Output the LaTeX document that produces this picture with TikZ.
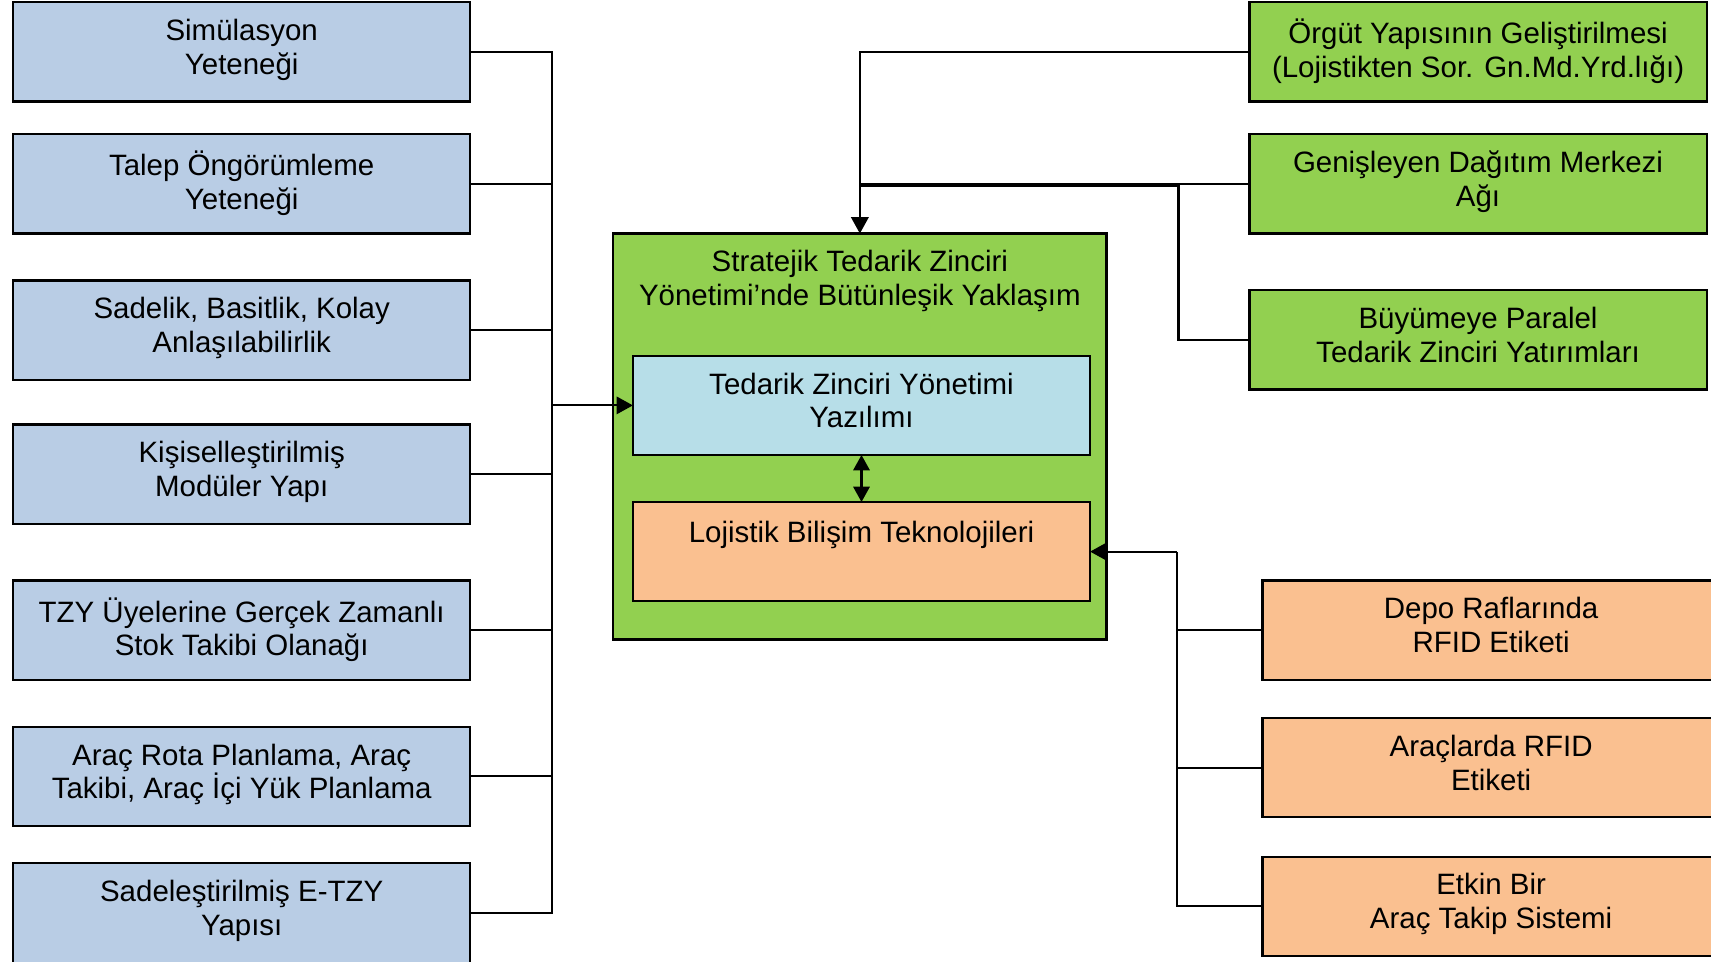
\documentclass[tikz,border=0pt]{standalone}
\usepackage{fontspec}
\setmainfont{Liberation Sans}
\usetikzlibrary{arrows.meta}

\definecolor{cardblue}{HTML}{B9CDE5}
\definecolor{cardgreen}{HTML}{92D050}
\definecolor{cardaqua}{HTML}{B7DEE8}
\definecolor{cardorange}{HTML}{FAC090}

\tikzset{
  card/.style={draw=black, line width=2pt, minimum width=419pt, minimum height=91pt,
               inner sep=0pt, outer sep=0pt},
  bluecard/.style={card, fill=cardblue},
  greencard/.style={card, fill=cardgreen},
  orangecard/.style={card, fill=cardorange},
  aquacard/.style={card, fill=cardaqua},
  frame/.style={draw=black, line width=2pt, fill=cardgreen, minimum width=452pt,
                minimum height=372pt, inner sep=0pt, outer sep=0pt},
  txt/.style={anchor=north, align=center, inner sep=0pt,
              font=\fontsize{27}{31}\selectfont, execute at begin node=\strut},
  wire/.style={line width=1.9pt},
  arr/.style={wire, -{Triangle[length=15pt,width=16pt]}},
  dblarr/.style={wire, {Triangle[length=14pt,width=15pt]}-{Triangle[length=14pt,width=15pt]}},
}

% caption placed inside a card, a fixed distance below its top edge
\newcommand\cardtext[2]{\node[txt] (#1-t) at ([yshift=-15.3pt]#1.north) {#2};}

\begin{document}
\begin{tikzpicture}[x=1pt, y=-1pt]
  \useasboundingbox (0,0) rectangle (1568,881);

  % left column
  \node[bluecard] (s1) at (221.5, 47.5) {};
  \node[bluecard] (s2) at (221.5,168.5) {};
  \node[bluecard] (s3) at (221.5,302.5) {};
  \node[bluecard] (s4) at (221.5,434.5) {};
  \node[bluecard] (s5) at (221.5,577.5) {};
  \node[bluecard] (s6) at (221.5,711.5) {};
  \node[bluecard, minimum height=97pt] (s7) at (221.5,839.5) {};
  \cardtext{s1}{Simülasyon\\Yeteneği}
  \cardtext{s2}{Talep Öngörümleme\\Yeteneği}
  \cardtext{s3}{Sadelik, Basitlik, Kolay\\Anlaşılabilirlik}
  \cardtext{s4}{Kişiselleştirilmiş\\Modüler Yapı}
  \cardtext{s5}{TZY Üyelerine Gerçek Zamanlı\\Stok Takibi Olanağı}
  \cardtext{s6}{Araç Rota Planlama, Araç\\Takibi, Araç İçi Yük Planlama}
  \cardtext{s7}{Sadeleştirilmiş E-TZY\\Yapısı}

  % central block
  \node[frame] (stz) at (788,400) {};
  \cardtext{stz}{Stratejik Tedarik Zinciri\\Yönetimi’nde Bütünleşik Yaklaşım}
  \node[aquacard] (tzy) at (789.5,371.5) {};
  \cardtext{tzy}{Tedarik Zinciri Yönetimi\\Yazılımı}
  \node[orangecard] (lbt) at (789.5,505.5) {};
  \cardtext{lbt}{Lojistik Bilişim Teknolojileri}

  % right column, top
  \node[greencard] (g1) at (1354.5, 47.5) {};
  \node[greencard] (g2) at (1354.5,168.5) {};
  \node[greencard] (g3) at (1354.5,311.5) {};
  \cardtext{g1}{Örgüt Yapısının Geliştirilmesi\\(Lojistikten Sor. Gn.Md.Yrd.lığı)}
  \cardtext{g2}{Genişleyen Dağıtım Merkezi\\Ağı}
  \cardtext{g3}{Büyümeye Paralel\\Tedarik Zinciri Yatırımları}

  % right column, bottom
  \node[orangecard] (o1) at (1366.5,577.5) {};
  \node[orangecard] (o2) at (1366.5,703.5) {};
  \node[orangecard] (o3) at (1366.5,830.5) {};
  \cardtext{o1}{Depo Raflarında\\RFID Etiketi}
  \cardtext{o2}{Araçlarda RFID\\Etiketi}
  \cardtext{o3}{Etkin Bir\\Araç Takip Sistemi}

  % bus junctions
  \coordinate (lbus) at (506,371.5);
  \coordinate (rbus) at (1079,505.5);
  \coordinate (gbus) at (1080,170.5);
  \coordinate (s7in) at (431,836.5);

  % left bus into the software box
  \foreach \n in {s1,s2,s3,s4,s5,s6}
    \draw[wire] (\n.east) -| (lbus);
  \draw[wire] (s7in) -| (lbus);
  \draw[arr] (lbus) -- (tzy.west);

  % right bus into the logistics IT box
  \foreach \n in {o1,o2,o3}
    \draw[wire] (\n.west) -| (rbus);
  \draw[arr] (rbus) -- (lbt.east);

  % top feeders into the strategic frame
  \draw[arr] (g1.west) -| (stz.north);
  \draw[wire] (g2.west) -- (stz.north |- g2.west);
  \draw[wire] (g3.west) -| (gbus) -- (stz.north |- gbus);

  % software <-> logistics IT
  \draw[dblarr] (tzy.south) -- (lbt.north);
\end{tikzpicture}
\end{document}
